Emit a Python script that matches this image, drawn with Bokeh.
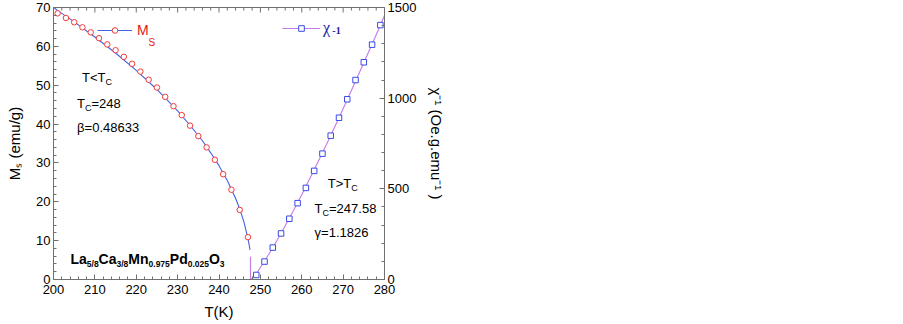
import math
from bokeh.plotting import figure
from bokeh.models import (Range1d, LinearAxis, SingleIntervalTicker, Label,
                          Legend, LegendItem)
from bokeh.embed import file_html
from bokeh.resources import INLINE

# ---------------- data ----------------
T_ms = [201, 203, 205, 207, 209, 211, 213, 215, 217, 219, 221, 223,
        225, 227, 229, 231, 233, 235, 237, 239, 241, 243, 245, 247]
Ms_vals = [68.5, 67.3, 66.2, 64.9, 63.6, 62.1, 60.5, 59.0, 57.3, 55.5, 53.5, 51.4,
           49.4, 47.0, 44.6, 42.3, 39.6, 36.9, 34.0, 30.8, 27.1, 23.1, 17.9, 10.9]

T_ms_fit = [200, 202, 205, 210, 215, 220, 225, 230, 233, 236, 238, 240,
            242, 244, 245, 246, 247, 247.5]
Ms_fit = [70.0, 68.5, 66.3, 62.4, 58.3, 53.8, 48.9, 43.4, 39.7, 35.7, 32.6, 29.3,
          25.5, 20.9, 18.2, 14.9, 10.6, 7.6]

T_chi = [249, 251, 253, 255, 257, 259, 261, 263, 265, 267, 269, 271,
         273, 275, 277, 279]
chi_inv = [25, 99, 176, 254, 335, 421, 505, 599, 694, 793, 892, 994,
           1100, 1198, 1295, 1403]

T_chi_fit = [247.6, 247.6, 248, 249, 250, 252, 254, 256, 258, 260, 263, 266,
             269, 272, 275, 278, 280]
chi_fit = [125, 0, 8, 30, 66, 138, 215, 296, 381, 468, 605, 746,
           892, 1042, 1195, 1350, 1456]

x_major_ticks = [200, 210, 220, 230, 240, 250, 260, 270, 280]
x_minor_ticks = [t for t in range(200, 281, 2) if t % 10 != 0]
ms_ticks_interval = 10
chi_ticks_interval = 500

# ---------------- figure ----------------
FONT = "Liberation Sans"
GRAY = "#707070"

p = figure(width=450, height=322, output_backend="svg", toolbar_location=None,
           x_range=Range1d(200, 280), y_range=Range1d(0, 70))
p.min_border = 0
p.min_border_left = 53
p.min_border_right = 66
p.min_border_top = 7
p.min_border_bottom = 42
p.xgrid.visible = False
p.ygrid.visible = False
p.outline_line_color = GRAY
p.background_fill_color = "white"
p.border_fill_color = "white"
p.extra_y_ranges = {"chi": Range1d(0, 1500)}


def style_axis(ax):
    ax.axis_line_color = GRAY
    ax.major_tick_line_color = GRAY
    ax.minor_tick_line_color = GRAY
    ax.major_tick_in = 5
    ax.major_tick_out = 0
    ax.minor_tick_in = 3
    ax.minor_tick_out = 0
    ax.major_label_text_font = FONT
    ax.major_label_text_color = "black"
    ax.major_label_text_font_size = "13px"
    ax.major_label_standoff = 3
    ax.axis_label_text_font = FONT
    ax.axis_label_text_font_size = "15px"
    ax.axis_label_text_font_style = "normal"
    ax.axis_label_text_color = "black"


xa = p.xaxis[0]
xa.ticker = SingleIntervalTicker(interval=10, num_minor_ticks=5)
style_axis(xa)
xa.major_label_standoff = 5
xa.axis_label = "T(K)"
xa.axis_label_standoff = 6

ya = p.yaxis[0]
ya.ticker = SingleIntervalTicker(interval=ms_ticks_interval, num_minor_ticks=5)
style_axis(ya)
ya.axis_label = "M\u209b (emu/g)"
ya.axis_label_standoff = 10

ra = LinearAxis(y_range_name="chi",
                ticker=SingleIntervalTicker(interval=chi_ticks_interval, num_minor_ticks=5))
style_axis(ra)
ra.axis_label = "\u03c7\u207b\u00b9 (Oe.g.emu\u207b\u00b9 )"
ra.axis_label_standoff = 9
p.add_layout(ra, "right")

# inward ticks along the top edge (mirror of the T axis)
p.scatter(x_major_ticks, [70] * len(x_major_ticks), marker="dash", angle=math.pi / 2,
          size=10, line_color=GRAY, line_width=1)
p.scatter(x_minor_ticks, [70] * len(x_minor_ticks), marker="dash", angle=math.pi / 2,
          size=6, line_color=GRAY, line_width=1)

# ---------------- series ----------------
MS_LINE = "#4262e6"
MS_PT = "#f23a3a"
CHI_LINE = "#c57ae8"
CHI_PT = "#3a4ae6"

ms_line = p.line(T_ms_fit, Ms_fit, line_color=MS_LINE, line_width=1.1)
ms_pts = p.scatter(T_ms, Ms_vals, marker="circle", size=5.5, line_color=MS_PT,
                   fill_color="white", line_width=1)
chi_line = p.line(T_chi_fit, chi_fit, y_range_name="chi", line_color=CHI_LINE,
                  line_width=1.1)
chi_pts = p.scatter(T_chi, chi_inv, y_range_name="chi", marker="square", size=5.5,
                    line_color=CHI_PT, fill_color="white", line_width=1)

# ---------------- legends ----------------
leg1 = Legend(items=[LegendItem(label="M", renderers=[ms_line, ms_pts])],
              location=(44, 241), glyph_width=35, glyph_height=14, label_height=14,
              label_standoff=5, padding=0, margin=0, border_line_alpha=0,
              background_fill_alpha=0, label_text_color="#e01818",
              label_text_font_size="14px", label_text_font=FONT)
leg2 = Legend(items=[LegendItem(label="\u03c7", renderers=[chi_line, chi_pts])],
              location=(229, 242), glyph_width=38, glyph_height=14, label_height=14,
              label_standoff=3, padding=0, margin=0, border_line_alpha=0,
              background_fill_alpha=0, label_text_color="#1a1aa0",
              label_text_font_size="16px", label_text_font="Liberation Serif")
p.add_layout(leg1)
p.add_layout(leg2)

# ---------------- rich text helper ----------------
WID = {'T': 0.611, '<': 0.584, '>': 0.584, 'C': 0.722, '=': 0.584, '.': 0.278,
       '\u03b2': 0.575, '\u03b3': 0.5, 'M': 0.833, 'S': 0.667, 's': 0.5, ' ': 0.278,
       '(': 0.333, ')': 0.333, 'e': 0.556, 'm': 0.833, 'u': 0.556, '/': 0.278,
       'g': 0.556, 'O': 0.778, 'L': 0.556, 'a': 0.556, 'n': 0.556, 'P': 0.667,
       'd': 0.556, 'K': 0.667}
BWID = {'L': 0.611, 'n': 0.611, 'd': 0.611}


def tw(s, size, bold=False):
    tot = 0.0
    for ch in s:
        if bold and ch in BWID:
            tot += BWID[ch]
        elif ch.isdigit():
            tot += 0.556
        else:
            tot += WID.get(ch, 0.56)
    return tot * size


def rich(x, y, parts, color="black", font=FONT, bold=False):
    along = 0.0
    for txt, size, shift in parts:
        p.add_layout(Label(x=x, y=y, text=txt, text_font=font,
                           text_font_size=f"{size}px",
                           text_font_style="bold" if bold else "normal",
                           text_color=color, text_baseline="alphabetic",
                           text_align="left", x_offset=along, y_offset=shift))
        along += tw(txt, size, bold)


# inner annotations (left)
rich(206.9, 52.0, [("T<T", 13, 0), ("C", 9, -5)])
rich(205.7, 45.3, [("T", 13, 0), ("C", 9, -5), ("=248", 13, 0)])
rich(205.7, 39.2, [("\u03b2=0.48633", 13, 0)])

# inner annotations (right)
rich(266.3, 24.8, [("T>T", 13, 0), ("C", 9, -5)])
rich(263.1, 18.3, [("T", 13, 0), ("C", 9, -5), ("=247.58", 13, 0)])
rich(263.1, 12.1, [("\u03b3=1.1826", 13, 0)])

# compound formula
rich(204.1, 5.2, [("La", 14, 0), ("5/8", 8.5, -4.5), ("Ca", 14, 0), ("3/8", 8.5, -4.5),
                  ("Mn", 14, 0), ("0.975", 8.5, -4.5), ("Pd", 14, 0), ("0.025", 8.5, -4.5),
                  ("O", 14, 0), ("3", 8.5, -4.5)], bold=True)

# legend sub/superscripts
p.add_layout(Label(x=222.96, y=61.0, text="S", text_font=FONT, text_font_size="10px",
                   text_color="#e01818", text_baseline="alphabetic"))
p.add_layout(Label(x=267.4, y=64.2, text="-1", text_font="Liberation Serif",
                   text_font_size="10px", text_font_style="bold",
                   text_color="#1a1aa0", text_baseline="middle"))

open("out.html", "w").write(file_html(p, INLINE))
